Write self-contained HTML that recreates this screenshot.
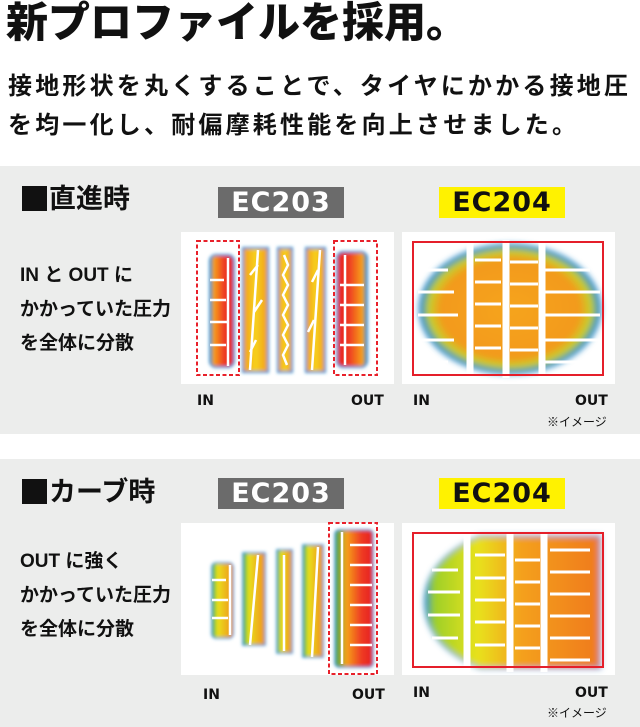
<!DOCTYPE html>
<html><head><meta charset="utf-8">
<style>
*{margin:0;padding:0;box-sizing:border-box}
body{width:640px;height:727px;background:#fff;position:relative;overflow:hidden;font-family:"Liberation Sans","Noto Sans CJK JP",sans-serif;font-weight:bold;color:#111}
.t{position:absolute;white-space:nowrap;line-height:1}
.panel{position:absolute;left:0;width:640px;height:268px;background:#ecedec}
.lbl{position:absolute;width:126px;height:31px;font-size:27px;text-align:center;line-height:31px;letter-spacing:1px;font-family:"DejaVu Sans","Liberation Sans",sans-serif;font-weight:bold}
.box{position:absolute;width:213px;height:152px;background:#fff}
.io{position:absolute;font-size:14px;font-family:"DejaVu Sans",sans-serif;font-weight:bold}
</style></head><body>
<div class="t" style="left:6px;top:2px;font-size:42px;font-weight:900">新プロファイルを採用。</div>
<div class="t" style="left:8px;top:75px;font-size:24px;letter-spacing:3.2px">接地形状を丸くすることで、タイヤにかかる接地圧</div>
<div class="t" style="left:8px;top:114px;font-size:24px;letter-spacing:3.2px">を均一化し、耐偏摩耗性能を向上させました。</div>

<div class="panel" style="top:166px"></div>
<div class="panel" style="top:459px"></div>

<div class="t" style="left:22px;top:186px;font-size:27px"><span style="display:inline-block;width:25px;height:25px;background:#111;vertical-align:-3px;margin-right:2px"></span>直進時</div>
<div class="t" style="left:20px;top:259px;font-size:19px;line-height:34px;white-space:normal">IN と OUT に<br>かかっていた圧力<br>を全体に分散</div>
<div class="t" style="left:22px;top:479px;font-size:27px"><span style="display:inline-block;width:25px;height:25px;background:#111;vertical-align:-3px;margin-right:2px"></span>カーブ時</div>
<div class="t" style="left:20px;top:545px;font-size:19px;line-height:34px;white-space:normal">OUT に強く<br>かかっていた圧力<br>を全体に分散</div>

<div class="lbl" style="left:218px;top:187px;background:#6b6b6b;color:#fff">EC203</div>
<div class="lbl" style="left:439px;top:187px;background:#fff200;color:#111">EC204</div>
<div class="lbl" style="left:218px;top:478px;background:#6b6b6b;color:#fff">EC203</div>
<div class="lbl" style="left:439px;top:478px;background:#fff200;color:#111">EC204</div>

<div class="box" style="left:181px;top:232px"></div>
<div class="box" style="left:402px;top:232px"></div>
<div class="box" style="left:181px;top:523px"></div>
<div class="box" style="left:402px;top:523px"></div>

<svg width="640" height="727" style="position:absolute;left:0;top:0">
<defs>
<filter id="b" x="-30%" y="-30%" width="160%" height="160%"><feGaussianBlur stdDeviation="1.6"/></filter>
<filter id="b2" x="-30%" y="-30%" width="160%" height="160%"><feGaussianBlur stdDeviation="3"/></filter>
<linearGradient id="rE" x1="0" x2="1"><stop offset="0" stop-color="#2a8fd0"/><stop offset=".15" stop-color="#f7a21a"/><stop offset=".6" stop-color="#ee3a22"/><stop offset="1" stop-color="#e51f1f"/></linearGradient>
<linearGradient id="rEr" x1="1" x2="0"><stop offset="0" stop-color="#2a8fd0"/><stop offset=".15" stop-color="#f7a21a"/><stop offset=".6" stop-color="#ee3a22"/><stop offset="1" stop-color="#e51f1f"/></linearGradient>
<linearGradient id="rM" x1="0" x2="1"><stop offset="0" stop-color="#f29a1c"/><stop offset=".5" stop-color="#f6d21a"/><stop offset="1" stop-color="#f29a1c"/></linearGradient>
<radialGradient id="blob" cx=".5" cy=".5" r=".55"><stop offset="0" stop-color="#f5a41e"/><stop offset=".7" stop-color="#f39a1c"/><stop offset=".82" stop-color="#c7d12a"/><stop offset=".9" stop-color="#2a8fd0"/><stop offset="1" stop-color="#fff"/></radialGradient>
<linearGradient id="cg" x1="0" x2="1"><stop offset="0" stop-color="#2aa84a"/><stop offset=".25" stop-color="#e8e21a"/><stop offset="1" stop-color="#f09020"/></linearGradient>
<linearGradient id="cR" x1="0" x2="1"><stop offset="0" stop-color="#3aa84a"/><stop offset=".3" stop-color="#f6a21a"/><stop offset=".7" stop-color="#ee3a22"/><stop offset="1" stop-color="#e51f1f"/></linearGradient>
<linearGradient id="c204" x1="0" x2="1"><stop offset="0" stop-color="#2a8fd0"/><stop offset=".05" stop-color="#9ccf2a"/><stop offset=".3" stop-color="#e8e21a"/><stop offset=".55" stop-color="#f4a01a"/><stop offset="1" stop-color="#f07a20"/></linearGradient>
</defs>

<!-- EC203 straight -->
<g filter="url(#b)" stroke="#2f8fd0" stroke-width="2">
<rect x="210" y="255" width="24" height="112" rx="6" fill="url(#rE)"/>
<rect x="243" y="248" width="25" height="124" fill="url(#rM)"/>
<rect x="278" y="248" width="14" height="124" fill="url(#rM)"/>
<rect x="306" y="248" width="19" height="124" fill="url(#rM)"/>
<rect x="337" y="252" width="30" height="115" rx="6" fill="url(#rEr)"/>
</g>
<g stroke="#fff" stroke-width="2.5" fill="none">
<path d="M210 280h14M210 300h16M210 322h18M210 345h16M228 258v108"/>
<path d="M340 285h24M340 305h24M340 325h24M340 345h24M345 255v110"/>
<path d="M250 370l8-120M258 265l-8 10M262 300l-8 12M256 340l-6 12M312 370l8-120M318 270l-6 12M314 320l-6 12"/>
<path d="M284 255l4 10l-5 10l5 10l-5 10l5 10l-5 10l5 10l-5 10l5 10l-5 10l4 10"/>
</g>
<g fill="none" stroke="#e8202a" stroke-width="2" stroke-dasharray="4 2.5">
<rect x="197" y="241" width="42" height="134"/>
<rect x="334" y="241" width="43" height="134"/>
</g>

<!-- EC204 straight -->
<ellipse cx="510" cy="309" rx="90" ry="64" fill="url(#blob)" stroke="#2f8fd0" stroke-width="3" filter="url(#b2)"/>
<g stroke="#fff" fill="none">
<path d="M470 240v138M506 240v138M542 240v138" stroke-width="7"/>
<path d="M418 270h30M418 292h36M418 315h40M418 340h36M418 362h30M545 270h45M545 292h55M545 315h55M545 340h55M545 362h45M475 260h26M475 282h26M475 304h26M475 326h26M475 348h26M510 262h28M510 284h28M510 306h28M510 328h28M510 350h28" stroke-width="3"/>
</g>
<rect x="413" y="242" width="190" height="133" fill="none" stroke="#e51f2a" stroke-width="2"/>

<!-- EC203 curve -->
<g filter="url(#b)" stroke="#2f8fd0" stroke-width="1.5">
<rect x="212" y="563" width="21" height="75" rx="4" fill="url(#cg)"/>
<rect x="243" y="553" width="22" height="92" fill="url(#cg)"/>
<rect x="277" y="550" width="15" height="103" fill="url(#cg)"/>
<rect x="303" y="545" width="20" height="112" fill="url(#cg)"/>
<rect x="335" y="530" width="38" height="137" rx="4" fill="url(#cR)"/>
</g>
<g stroke="#fff" stroke-width="2.5" fill="none">
<path d="M212 580h14M212 600h16M212 618h16M230 565v70M250 645l8-90M284 555v96M312 657l6-110"/>
<path d="M350 545h22M350 565h22M350 585h22M350 605h22M350 625h22M350 645h22M342 532v132"/>
</g>
<rect x="329" y="523" width="48" height="151" fill="none" stroke="#e8202a" stroke-width="2" stroke-dasharray="4 2.5"/>

<!-- EC204 curve -->
<path d="M600 536H480Q425 560 425 602Q425 645 480 668H600Z" fill="url(#c204)" stroke="#2f8fd0" stroke-width="2" filter="url(#b2)"/>
<g stroke="#fff" fill="none">
<path d="M467 532v140M510 532v140M544 532v140" stroke-width="7"/>
<path d="M432 570h26M428 592h32M428 615h32M432 638h26M475 555h30M475 578h30M475 600h30M475 622h30M475 645h30M515 560h25M515 582h25M515 604h25M515 626h25M515 648h25M550 550h40M550 572h40M550 594h40M550 616h40M550 638h40M550 660h40" stroke-width="3"/>
</g>
<rect x="413" y="533" width="190" height="134" fill="none" stroke="#e51f2a" stroke-width="2"/>
</svg>

<div class="io" style="left:197px;top:393px">IN</div>
<div class="io" style="left:351px;top:393px">OUT</div>
<div class="io" style="left:413px;top:393px">IN</div>
<div class="io" style="left:575px;top:393px">OUT</div>
<div class="t" style="left:547px;top:416px;font-size:12px;font-weight:normal">※イメージ</div>
<div class="io" style="left:203px;top:687px">IN</div>
<div class="io" style="left:352px;top:687px">OUT</div>
<div class="io" style="left:413px;top:685px">IN</div>
<div class="io" style="left:575px;top:685px">OUT</div>
<div class="t" style="left:547px;top:707px;font-size:12px;font-weight:normal">※イメージ</div>
</body></html>
